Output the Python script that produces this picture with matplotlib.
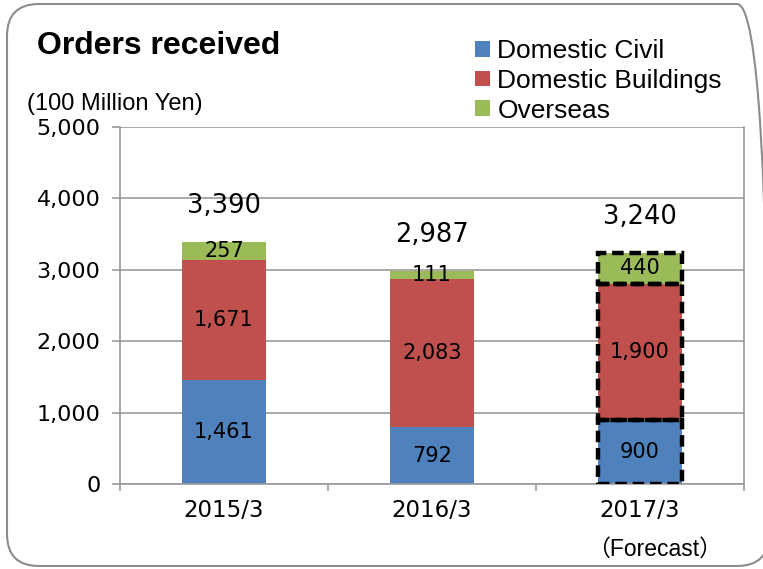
import numpy as np
import matplotlib
matplotlib.use("Agg")
import matplotlib.pyplot as plt
from matplotlib.patches import FancyBboxPatch, Patch
from matplotlib.transforms import IdentityTransform

years = ["2015/3", "2016/3", "2017/3"]
civil = [1461, 792, 900]
buildings = [1671, 2083, 1900]
overseas = [257, 111, 440]
totals = [3390, 2987, 3240]
series_names = ["Domestic Civil", "Domestic Buildings", "Overseas"]
colors = ["#4F81BD", "#C0504D", "#9BBB59"]

num_font = ["DejaVu Sans"]
txt_font = ["Liberation Sans", "Noto Sans CJK JP", "DejaVu Sans"]

fig = plt.figure(figsize=(7.63, 5.69), dpi=100)

# rounded frame (pixel coords), right edge runs off the canvas
frame = FancyBboxPatch((7, 3), 762, 562,
                       boxstyle="round,pad=0,rounding_size=32",
                       transform=IdentityTransform(), fill=False,
                       edgecolor="#8c8c8c", linewidth=1.5, zorder=0)
fig.patches.append(frame)

ax = fig.add_axes([120 / 763, 1 - 484 / 569, 624 / 763, 357 / 569])

x = np.arange(len(years))
w = 0.4
stacks = [civil, buildings, overseas]
bottom = np.zeros(len(years))
for vals, col in zip(stacks, colors):
    vals = np.array(vals)
    ax.bar(x, vals, w, bottom=bottom, color=col, zorder=2)
    for xi, b, v in zip(x, bottom, vals):
        ax.text(xi, b + v / 2, f"{v:,}", ha="center", va="center",
                fontsize=15, family=num_font, zorder=4)
    # dashed outline for forecast year
    ax.bar(x[-1], vals[-1], w, bottom=bottom[-1], fill=False,
           edgecolor="black", linewidth=3.2, linestyle=(0, (2.6, 1.3)),
           zorder=3)
    bottom = bottom + vals

for xi, t in zip(x, totals):
    ax.annotate(f"{t:,}", (xi, t), xytext=(0, 26), textcoords="offset points",
                ha="center", va="center", fontsize=18.5, family=num_font)

ax.set_xlim(-0.5, 2.5)
ax.set_ylim(0, 5000)
ax.set_yticks(np.arange(0, 5001, 1000))
ax.set_yticklabels([f"{v:,}" for v in range(0, 5001, 1000)],
                   family=num_font, fontsize=16)
ax.set_xticks(x)
ax.set_xticklabels(years, family=num_font, fontsize=16.5)
ax.set_xticks([-0.5, 0.5, 1.5, 2.5], minor=True)
ax.tick_params(axis="x", which="major", length=0, pad=11)
ax.tick_params(axis="x", which="minor", length=5, color="#999999", width=1.2)
ax.tick_params(axis="y", length=6, color="#999999", width=1.2, pad=8)
ax.grid(axis="y", color="#999999", linewidth=1.2, zorder=0)
ax.set_axisbelow(True)
for s in ["left", "right", "bottom"]:
    ax.spines[s].set_color("#999999")
    ax.spines[s].set_linewidth(1.2)
ax.spines["top"].set_visible(False)

ax.text(2.07, -0.184, "（Forecast）", transform=ax.get_xaxis_transform(),
        ha="center", va="center", fontsize=16.5, family=txt_font)

fig.text(37 / 763, 1 - 46 / 569, "Orders received", fontsize=23,
         weight="bold", family=txt_font, va="center", ha="left")
fig.text(27 / 763, 1 - 104 / 569, "(100 Million Yen)", fontsize=17,
         family=txt_font, va="center", ha="left")

handles = [Patch(facecolor=c) for c in colors]
fig.legend(handles, series_names, loc="upper left",
           bbox_to_anchor=(475 / 763, 1 - 39 / 569), frameon=False,
           prop={"family": txt_font, "size": 19}, handlelength=0.55,
           handleheight=0.55, handletextpad=0.3, labelspacing=0.22,
           borderpad=0, borderaxespad=0)

fig.savefig("out.png", dpi=100)
